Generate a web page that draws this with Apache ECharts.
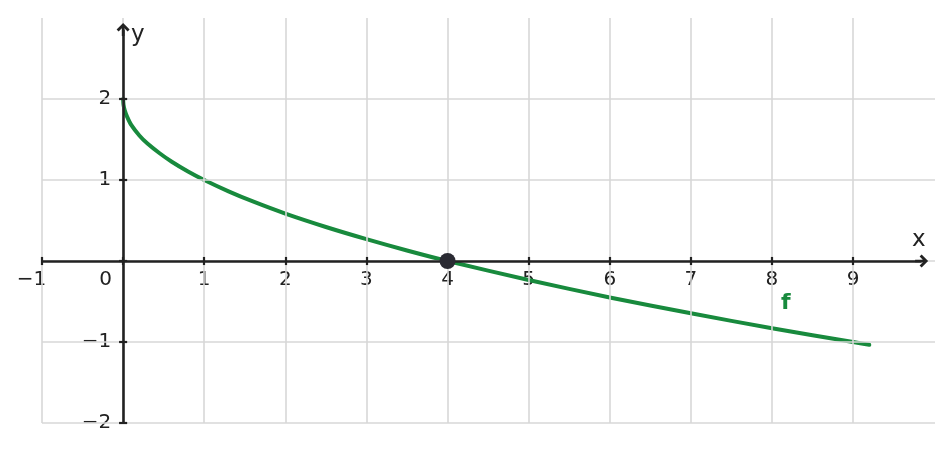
<!DOCTYPE html>
<html>
<head>
<meta charset="utf-8">
<script src="https://cdn.jsdelivr.net/npm/echarts@6/dist/echarts.min.js"></script>
<style>
html,body{margin:0;padding:0;background:#fff;}
#chart{width:952px;height:452px;}
</style>
</head>
<body>
<div id="chart"></div>
<script>
// ---- data ----
const curveX = [0, 0.005, 0.02, 0.05, 0.1, 0.2, 0.3, 0.45, 0.6, 0.8, 1, 1.3, 1.6, 2, 2.5, 3, 3.5, 4, 5, 6, 7, 8, 9, 9.2];
const curveY = [2, 1.93, 1.86, 1.78, 1.68, 1.55, 1.45, 1.33, 1.225, 1.105, 1.00, 0.86, 0.735, 0.585, 0.42, 0.27, 0.13, 0, -0.235, -0.45, -0.645, -0.83, -1.00, -1.035];
const xTicks = [-1, 0, 1, 2, 3, 4, 5, 6, 7, 8, 9];
const yTicks = [-2, -1, 0, 1, 2];
const markedX = [4];
const markedY = [0];
const curveName = 'f';
const axisNames = ['x', 'y'];

// ---- styles / layout ----
const FONT = 'DejaVu Sans';
const GREEN = '#188a3d';
const DARK = '#222222';
const GRIDC = '#d7d7d7';
const labelAnchor = [8.17, -0.52];
const xAxisEnd = 9.845;
const yAxisEnd = 2.858;
const tickHalf = 0.05;
const chevron = 'path://M6.5,0 L13,6.5 L11,8.5 L7.8,5.3 L7.8,13 L5.2,13 L5.2,5.3 L2,8.5 L0,6.5 Z';

const curveData = curveX.map((x, i) => [x, curveY[i]]);
const fmtNum = v => (v < 0 ? '\u2212' + Math.abs(v) : String(v));

const tickSegs = xTicks.map(v => [{coord: [v, -tickHalf]}, {coord: [v, tickHalf]}])
  .concat(yTicks.map(v => [{coord: [-tickHalf, v]}, {coord: [tickHalf, v]}]));

const labelFont = {fontFamily: FONT, fontSize: 20, color: DARK, backgroundColor: '#fff', padding: [1, 2, 1, 2]};
const xLabelData = xTicks.map(v => ({
  value: [v, 0],
  label: Object.assign({
    show: true, position: 'inside', formatter: fmtNum(v),
    align: 'center', verticalAlign: 'middle',
    offset: [v === 0 ? -17.5 : (v < 0 ? -10.5 : 0), 18.5]
  }, labelFont)
}));
const yLabelData = yTicks.filter(v => v !== 0).map(v => ({
  value: [0, v],
  label: Object.assign({
    show: true, position: 'inside', formatter: fmtNum(v),
    align: 'right', verticalAlign: 'middle', offset: [-10, 0]
  }, labelFont)
}));

const chart = echarts.init(document.getElementById('chart'), null, {renderer: 'canvas'});
chart.setOption({
  animation: false,
  backgroundColor: '#fff',
  grid: {left: 42, right: 17, top: 18, bottom: 29, containLabel: false},
  xAxis: {
    type: 'value', min: -1, max: 10.01, interval: 1,
    axisLine: {show: false}, axisTick: {show: false}, splitLine: {show: false}, axisLabel: {show: false}
  },
  yAxis: {
    type: 'value', min: -2, max: 3, interval: 1,
    axisLine: {show: false}, axisTick: {show: false}, splitLine: {show: false}, axisLabel: {show: false}
  },
  graphic: [
    {type: 'text', left: 131, top: 24, style: {text: axisNames[1], fill: DARK, font: '23px "DejaVu Sans"'}},
    {type: 'text', left: 912, top: 229, style: {text: axisNames[0], fill: DARK, font: '23px "DejaVu Sans"'}}
  ],
  series: [
    {
      type: 'line', data: [], z: 1, silent: true,
      markLine: {
        silent: true, symbol: 'none', animation: false,
        label: {show: false},
        lineStyle: {color: GRIDC, width: 1.6, type: 'solid'},
        data: xTicks.map(v => ({xAxis: v})).concat(yTicks.map(v => ({yAxis: v})))
      }
    },
    {
      type: 'scatter', z: 2, silent: true, symbolSize: 0, clip: false,
      itemStyle: {opacity: 1},
      data: xLabelData.concat(yLabelData)
    },
    {
      type: 'line', data: curveData, z: 3, smooth: 0.3, showSymbol: false, silent: true,
      lineStyle: {color: GREEN, width: 4, join: 'round', cap: 'round'}, itemStyle: {color: GREEN}
    },
    {
      type: 'line', data: [], z: 4, silent: true,
      markLine: {
        silent: true, animation: false, label: {show: false},
        symbol: ['none', chevron], symbolSize: [13, 13],
        lineStyle: {color: DARK, width: 2.6, type: 'solid'},
        data: [
          [{coord: [xTicks[0], 0]}, {coord: [xAxisEnd, 0]}],
          [{coord: [0, yTicks[0]]}, {coord: [0, yAxisEnd]}]
        ]
      }
    },
    {
      type: 'line', data: [], z: 4, silent: true,
      markLine: {
        silent: true, animation: false, label: {show: false}, symbol: 'none',
        lineStyle: {color: DARK, width: 2.2, type: 'solid'},
        data: tickSegs
      }
    },
    {
      type: 'scatter', z: 6, silent: true, symbol: 'circle', symbolSize: 16,
      itemStyle: {color: '#2a2a33', opacity: 1},
      data: markedX.map((x, i) => [x, markedY[i]])
    },
    {
      type: 'scatter', z: 6, silent: true, symbolSize: 0,
      itemStyle: {opacity: 1},
      data: [labelAnchor],
      label: {show: true, position: 'inside', formatter: curveName, color: GREEN,
              fontFamily: FONT, fontWeight: 'bold', fontSize: 22}
    }
  ]
});
</script>
</body>
</html>
